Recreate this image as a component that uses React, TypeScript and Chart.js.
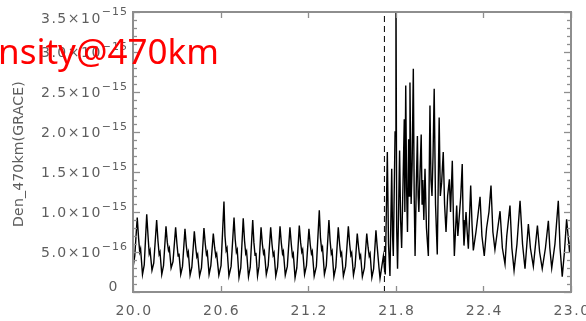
import React, { useEffect, useRef } from "react";
import { Chart, registerables } from "chart.js";

Chart.register(...registerables);

// Day of year (x) and neutral density in units of 1e-15 (y)
const densitySeries: [number, number][] = [
  [20.000, 0.30], [20.012, 0.45],
  [20.029, 0.93], [20.038, 0.68], [20.046, 0.50], [20.052, 0.54], [20.065, 0.22], [20.077, 0.34],
  [20.094, 0.97], [20.103, 0.70], [20.111, 0.48], [20.117, 0.52], [20.130, 0.27], [20.142, 0.36],
  [20.162, 0.90], [20.171, 0.64], [20.179, 0.47], [20.185, 0.50], [20.197, 0.22], [20.209, 0.33],
  [20.226, 0.82], [20.235, 0.62], [20.243, 0.52], [20.249, 0.55], [20.261, 0.30], [20.274, 0.38],
  [20.292, 0.81], [20.301, 0.60], [20.309, 0.45], [20.315, 0.48], [20.327, 0.22], [20.339, 0.32],
  [20.356, 0.79], [20.365, 0.58], [20.373, 0.46], [20.379, 0.50], [20.391, 0.21], [20.403, 0.31],
  [20.420, 0.76], [20.429, 0.57], [20.437, 0.44], [20.443, 0.47], [20.456, 0.20], [20.469, 0.30],
  [20.486, 0.80], [20.495, 0.60], [20.503, 0.47], [20.509, 0.50], [20.521, 0.22], [20.533, 0.33],
  [20.550, 0.73], [20.559, 0.56], [20.567, 0.45], [20.573, 0.48], [20.588, 0.21], [20.603, 0.33],
  [20.623, 1.13], [20.630, 0.70], [20.638, 0.52], [20.644, 0.55], [20.657, 0.20], [20.672, 0.32],
  [20.692, 0.93], [20.700, 0.66], [20.708, 0.50], [20.714, 0.53], [20.726, 0.18], [20.738, 0.30],
  [20.755, 0.92], [20.764, 0.64], [20.772, 0.48], [20.778, 0.51], [20.791, 0.19], [20.803, 0.31],
  [20.820, 0.90], [20.828, 0.62], [20.836, 0.46], [20.842, 0.49], [20.853, 0.20], [20.863, 0.32],
  [20.877, 0.81], [20.886, 0.60], [20.894, 0.48], [20.900, 0.51], [20.913, 0.22], [20.926, 0.33],
  [20.943, 0.81], [20.952, 0.60], [20.960, 0.46], [20.966, 0.49], [20.978, 0.20], [20.990, 0.31],
  [21.007, 0.82], [21.016, 0.61], [21.024, 0.48], [21.030, 0.51], [21.043, 0.21], [21.057, 0.32],
  [21.075, 0.81], [21.084, 0.60], [21.092, 0.45], [21.098, 0.48], [21.110, 0.18], [21.122, 0.30],
  [21.139, 0.83], [21.148, 0.62], [21.156, 0.50], [21.162, 0.53], [21.175, 0.22], [21.188, 0.33],
  [21.205, 0.79], [21.214, 0.59], [21.222, 0.48], [21.228, 0.51], [21.241, 0.20], [21.256, 0.32],
  [21.276, 1.02], [21.284, 0.68], [21.292, 0.53], [21.298, 0.56], [21.311, 0.22], [21.324, 0.33],
  [21.342, 0.90], [21.350, 0.64], [21.358, 0.48], [21.364, 0.51], [21.376, 0.19], [21.389, 0.31],
  [21.406, 0.81], [21.415, 0.60], [21.423, 0.46], [21.429, 0.49], [21.441, 0.20], [21.456, 0.32],
  [21.475, 0.82], [21.484, 0.60], [21.492, 0.46], [21.498, 0.49], [21.510, 0.21], [21.521, 0.32],
  [21.536, 0.73], [21.545, 0.56], [21.553, 0.43], [21.559, 0.46], [21.571, 0.19], [21.585, 0.30],
  [21.601, 0.73], [21.610, 0.56], [21.618, 0.45], [21.624, 0.48], [21.636, 0.18], [21.648, 0.29],
  [21.664, 0.77], [21.672, 0.58], [21.679, 0.43], [21.685, 0.30], [21.692, 0.17],
  [21.715, 0.45], [21.722, 0.30], [21.728, 0.22], [21.742, 1.75], [21.750, 0.60], [21.760, 0.20],
  [21.772, 1.54], [21.778, 0.70], [21.783, 0.45], [21.795, 2.00], [21.801, 4.00], [21.806, 0.80],
  [21.812, 0.29], [21.820, 1.10], [21.826, 1.77], [21.833, 0.90], [21.840, 0.55], [21.850, 1.40],
  [21.858, 2.16], [21.862, 1.00], [21.868, 2.58], [21.874, 1.30], [21.880, 0.75], [21.888, 1.91],
  [21.892, 1.20], [21.897, 2.62], [21.905, 1.10], [21.912, 1.60], [21.920, 2.79], [21.926, 1.20],
  [21.932, 0.45], [21.940, 1.30], [21.948, 1.95], [21.953, 1.20], [21.958, 1.00], [21.966, 1.50],
  [21.974, 1.97], [21.980, 1.10], [21.985, 1.40], [21.992, 0.90], [22.000, 1.54], [22.010, 0.80],
  [22.023, 0.45], [22.034, 2.33], [22.041, 1.40], [22.048, 1.20], [22.055, 1.70], [22.063, 2.54],
  [22.072, 1.10], [22.084, 0.47], [22.097, 2.18], [22.105, 1.20], [22.114, 1.37], [22.125, 1.75],
  [22.134, 1.10], [22.144, 0.75], [22.155, 1.20], [22.167, 1.41], [22.175, 1.00], [22.187, 1.64],
  [22.195, 0.90], [22.201, 0.45], [22.217, 1.08], [22.225, 0.70], [22.233, 0.90], [22.245, 1.20],
  [22.255, 1.60], [22.261, 0.90], [22.267, 0.58], [22.281, 1.00], [22.289, 0.75], [22.297, 0.54],
  [22.313, 1.33], [22.322, 0.85], [22.331, 0.52], [22.349, 0.75], [22.362, 0.95], [22.377, 1.19],
  [22.390, 0.70], [22.406, 0.45], [22.422, 0.80], [22.438, 1.00], [22.452, 1.33], [22.465, 0.75],
  [22.479, 0.53], [22.495, 0.75], [22.514, 1.01], [22.530, 0.55], [22.548, 0.35], [22.560, 0.70],
  [22.582, 1.08], [22.595, 0.55], [22.610, 0.27], [22.630, 0.60], [22.651, 1.14], [22.668, 0.60],
  [22.685, 0.29], [22.708, 0.85], [22.722, 0.55], [22.742, 0.32], [22.770, 0.83], [22.785, 0.50],
  [22.803, 0.29], [22.825, 0.55], [22.845, 0.89], [22.855, 0.55], [22.868, 0.30], [22.890, 0.60],
  [22.913, 1.14], [22.925, 0.55], [22.940, 0.19], [22.955, 0.50], [22.970, 0.91], [22.990, 0.50],
  [23.000, 0.72],
];

const eventDay = 21.722;

const xTickValues = [20.0, 20.6, 21.2, 21.8, 22.4, 23.0];
const xTickLabels = ["20.0", "20.6", "21.2", "21.8", "22.4", "23.0"];

const yTickValues = [0, 0.5, 1.0, 1.5, 2.0, 2.5, 3.0, 3.5];
const yTickMantissa = ["0", "5.0×10", "1.0×10", "1.5×10", "2.0×10", "2.5×10", "3.0×10", "3.5×10"];
const yTickExponent = ["", "−16", "−15", "−15", "−15", "−15", "−15", "−15"];
const yMinorStep = 0.1;

const yAxisTitle = "Den_470km(GRACE)";
const overlayTitle = "nsity@470km";

const idlAxesPlugin = {
  id: "idlAxes",
  afterDraw(chart: any) {
    const { ctx, chartArea: a, scales } = chart;
    const xs = scales.x;
    const ys = scales.y;
    const seg = (x1: number, y1: number, x2: number, y2: number) => {
      ctx.beginPath();
      ctx.moveTo(x1, y1);
      ctx.lineTo(x2, y2);
      ctx.stroke();
    };
    ctx.save();
    ctx.strokeStyle = "#8e8e8e";
    ctx.lineWidth = 2;
    ctx.strokeRect(a.left, a.top, a.right - a.left, a.bottom - a.top);

    ctx.lineWidth = 1.3;
    const nMinor = Math.round((ys.max - ys.min) / yMinorStep);
    for (let i = 0; i <= nMinor; i++) {
      const v = ys.min + i * yMinorStep;
      const y = Math.round(ys.getPixelForValue(v)) + 0.5;
      const major = i % 5 === 0;
      const len = major ? 7 : 4;
      seg(a.left, y, a.left + len, y);
      seg(a.right, y, a.right - len, y);
    }
    xTickValues.forEach((v) => {
      const x = Math.round(xs.getPixelForValue(v)) + 0.5;
      seg(x, a.bottom, x, a.bottom - 6);
      seg(x, a.top, x, a.top + 6);
    });

    ctx.fillStyle = "#5e5e5e";
    ctx.font = "14px 'DejaVu Sans'";
    (ctx as any).letterSpacing = "1.5px";
    ctx.textAlign = "center";
    ctx.textBaseline = "middle";
    xTickLabels.forEach((t, i) => {
      ctx.fillText(t, xs.getPixelForValue(xTickValues[i]) + 1, 311);
    });

    yTickValues.forEach((v, i) => {
      const ty = ys.getPixelForValue(v);
      let dy = 1.5;
      if (i === 0) dy = -5;
      if (i === yTickValues.length - 1) dy = 7;
      const exp = yTickExponent[i];
      if (!exp) {
        ctx.font = "14px 'DejaVu Sans'";
        (ctx as any).letterSpacing = "1.5px";
        ctx.textAlign = "right";
        ctx.fillText(yTickMantissa[i], 119, ty + dy);
        return;
      }
      ctx.font = "11px 'DejaVu Sans'";
      (ctx as any).letterSpacing = "1px";
      ctx.textAlign = "right";
      const ew = ctx.measureText(exp).width;
      ctx.fillText(exp, 128, ty + dy - 6.5);
      ctx.font = "14px 'DejaVu Sans'";
      (ctx as any).letterSpacing = "1.5px";
      ctx.fillText(yTickMantissa[i], 128 - ew, ty + dy);
    });

    ctx.save();
    ctx.font = "14px 'DejaVu Sans'";
    (ctx as any).letterSpacing = "0.2px";
    ctx.textAlign = "center";
    ctx.textBaseline = "alphabetic";
    ctx.translate(23, (a.top + a.bottom) / 2 + 2);
    ctx.rotate(-Math.PI / 2);
    ctx.fillText(yAxisTitle, 0, 0);
    ctx.restore();

    ctx.fillStyle = "#ff0000";
    ctx.font = "35px 'Noto Sans'";
    (ctx as any).letterSpacing = "0px";
    ctx.textAlign = "left";
    ctx.textBaseline = "alphabetic";
    ctx.fillText(overlayTitle, -2, 64);
    ctx.restore();
  },
};

export default function App() {
  const canvasRef = useRef<HTMLCanvasElement | null>(null);

  useEffect(() => {
    if (!canvasRef.current) return;
    const chart = new Chart(canvasRef.current, {
      type: "line",
      data: {
        datasets: [
          {
            data: densitySeries.map(([x, y]) => ({ x, y })),
            borderColor: "#000000",
            borderWidth: 1.4,
            pointRadius: 0,
            tension: 0,
            fill: false,
          },
          {
            data: [
              { x: eventDay, y: 0 },
              { x: eventDay, y: 3.5 },
            ],
            borderColor: "#000000",
            borderWidth: 1,
            borderDash: [6, 4],
            pointRadius: 0,
            fill: false,
          },
        ],
      },
      options: {
        animation: false,
        responsive: false,
        devicePixelRatio: 1,
        layout: { padding: { left: 0, right: 15, top: 12, bottom: 0 } },
        plugins: { legend: { display: false }, tooltip: { enabled: false } },
        events: [],
        scales: {
          x: {
            type: "linear",
            min: 20,
            max: 23,
            grid: { display: false },
            border: { display: false },
            ticks: { display: false },
            afterFit: (s: any) => {
              s.height = 29;
            },
          },
          y: {
            type: "linear",
            min: 0,
            max: 3.5,
            grid: { display: false },
            border: { display: false },
            ticks: { display: false },
            afterFit: (s: any) => {
              s.width = 133;
            },
          },
        },
      },
      plugins: [idlAxesPlugin],
    } as any);
    return () => chart.destroy();
  }, []);

  return (
    <div style={{ position: "fixed", left: 0, top: 0, width: 586, height: 321, background: "#fff" }}>
      <canvas ref={canvasRef} width={586} height={321} style={{ display: "block" }} />
    </div>
  );
}
